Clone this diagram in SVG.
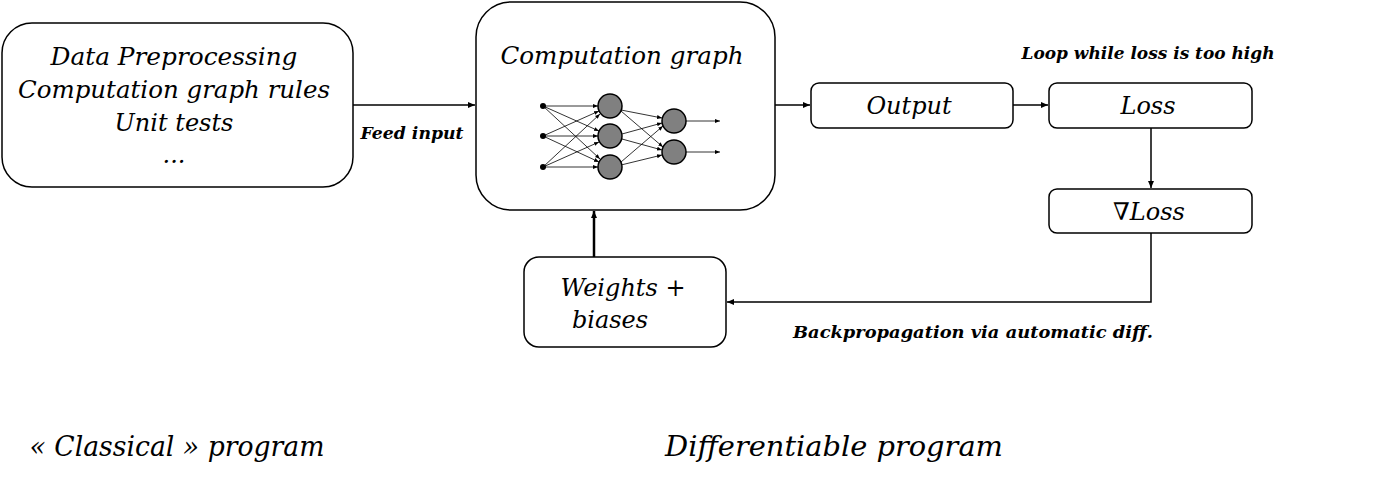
<svg xmlns="http://www.w3.org/2000/svg" width="1400" height="484" viewBox="0 0 1400 484">
<style>
.box{fill:#fff;stroke:#000;stroke-width:1.5}
.t{font-family:"DejaVu Serif","Liberation Serif",serif;font-style:italic;font-size:24px;fill:#000;text-anchor:middle}
.lb{font-family:"DejaVu Serif","Liberation Serif",serif;font-style:italic;font-weight:bold;font-size:17px;fill:#000;text-anchor:middle}
.big{font-family:"DejaVu Serif","Liberation Serif",serif;font-style:italic;font-size:27px;fill:#000;text-anchor:middle}
.c{fill:none;stroke:#000;stroke-width:1.5}
.nn{fill:none;stroke:#000;stroke-width:0.8}
.neuron{fill:#808080;stroke:#000;stroke-width:1.5}
</style>
<defs>
<marker id="ah" markerWidth="8" markerHeight="8" refX="7" refY="4" orient="auto" markerUnits="userSpaceOnUse"><path d="M0,1 L7,4 L0,7 Z" fill="#000"/></marker>
<marker id="sh" markerWidth="6" markerHeight="6" refX="5" refY="3" orient="auto" markerUnits="userSpaceOnUse"><path d="M0,1 L5,3 L0,5 Z" fill="#000"/></marker>
</defs>
<rect width="1400" height="484" fill="#fff"/>
<g id="connectors">
<path class="c" d="M353,105 H475" marker-end="url(#ah)"/>
<path class="c" d="M775,105 H810" marker-end="url(#ah)"/>
<path class="c" d="M1013,105 H1048" marker-end="url(#ah)"/>
<path class="c" d="M1151,128 V188" marker-end="url(#ah)"/>
<path class="c" d="M1151,233 V302 H727" marker-end="url(#ah)"/>
<path class="c" d="M594,257 V211" style="stroke-width:2.5" marker-end="url(#ah)"/>
</g>
<g id="classical">
<rect class="box" x="2" y="23" width="351" height="164" rx="30"/>
<text class="t" x="174" y="65" textLength="247" lengthAdjust="spacingAndGlyphs">Data Preprocessing</text>
<text class="t" x="174" y="98" textLength="312" lengthAdjust="spacingAndGlyphs">Computation graph rules</text>
<text class="t" x="174" y="131">Unit tests</text>
<text class="t" x="174" y="163">...</text>
</g>
<g id="compgraph">
<rect class="box" x="476" y="2" width="299" height="208" rx="35"/>
<text class="t" x="622" y="64" textLength="243" lengthAdjust="spacingAndGlyphs">Computation graph</text>
<g id="nn">
<g class="nn" marker-end="url(#sh)">
<path d="M543,106 L598,106"/><path d="M543,106 L599,131"/><path d="M543,106 L600,159"/>
<path d="M543,136 L599,111"/><path d="M543,136 L598,136"/><path d="M543,136 L599,162"/>
<path d="M543,167 L600,114"/><path d="M543,167 L599,142"/><path d="M543,167 L598,167"/>
<path d="M621,110 L662,118"/><path d="M621,111 L663,147"/>
<path d="M622,134 L662,123"/><path d="M622,139 L662,150"/>
<path d="M621,162 L663,126"/><path d="M621,165 L662,155"/>
<path d="M686,121 L720,121"/><path d="M686,152 L720,152"/>
</g>
<circle cx="543" cy="106" r="3"/><circle cx="543" cy="136" r="3"/><circle cx="543" cy="167" r="3"/>
<circle class="neuron" cx="610" cy="106" r="12"/>
<circle class="neuron" cx="610" cy="136" r="12"/>
<circle class="neuron" cx="610" cy="167" r="12"/>
<circle class="neuron" cx="674" cy="121" r="12"/>
<circle class="neuron" cx="674" cy="152" r="12"/>
</g>
</g>
<g id="output">
<rect class="box" x="811" y="83" width="202" height="45" rx="8"/>
<text class="t" x="909" y="114">Output</text>
</g>
<g id="loss">
<rect class="box" x="1049" y="83" width="203" height="45" rx="8"/>
<text class="t" x="1148" y="114">Loss</text>
</g>
<g id="gradloss">
<rect class="box" x="1049" y="189" width="203" height="44" rx="8"/>
<text class="t" x="1149" y="220"><tspan font-style="normal">∇</tspan>Loss</text>
</g>
<g id="weights">
<rect class="box" x="524" y="257" width="202" height="90" rx="15"/>
<text class="t" x="623" y="296">Weights +</text>
<text class="t" x="610" y="328">biases</text>
</g>
<g id="labels">
<text class="lb" x="1148" y="59" textLength="253" lengthAdjust="spacingAndGlyphs">Loop while loss is too high</text>
<text class="lb" x="412" y="139" textLength="103" lengthAdjust="spacingAndGlyphs">Feed input</text>
<text class="lb" x="973" y="338" textLength="360" lengthAdjust="spacingAndGlyphs">Backpropagation via automatic diff.</text>
<text class="big" x="177" y="456" textLength="295" lengthAdjust="spacingAndGlyphs">« Classical » program</text>
<text class="big" x="834" y="456" textLength="338" lengthAdjust="spacingAndGlyphs">Differentiable program</text>
</g>
</svg>
